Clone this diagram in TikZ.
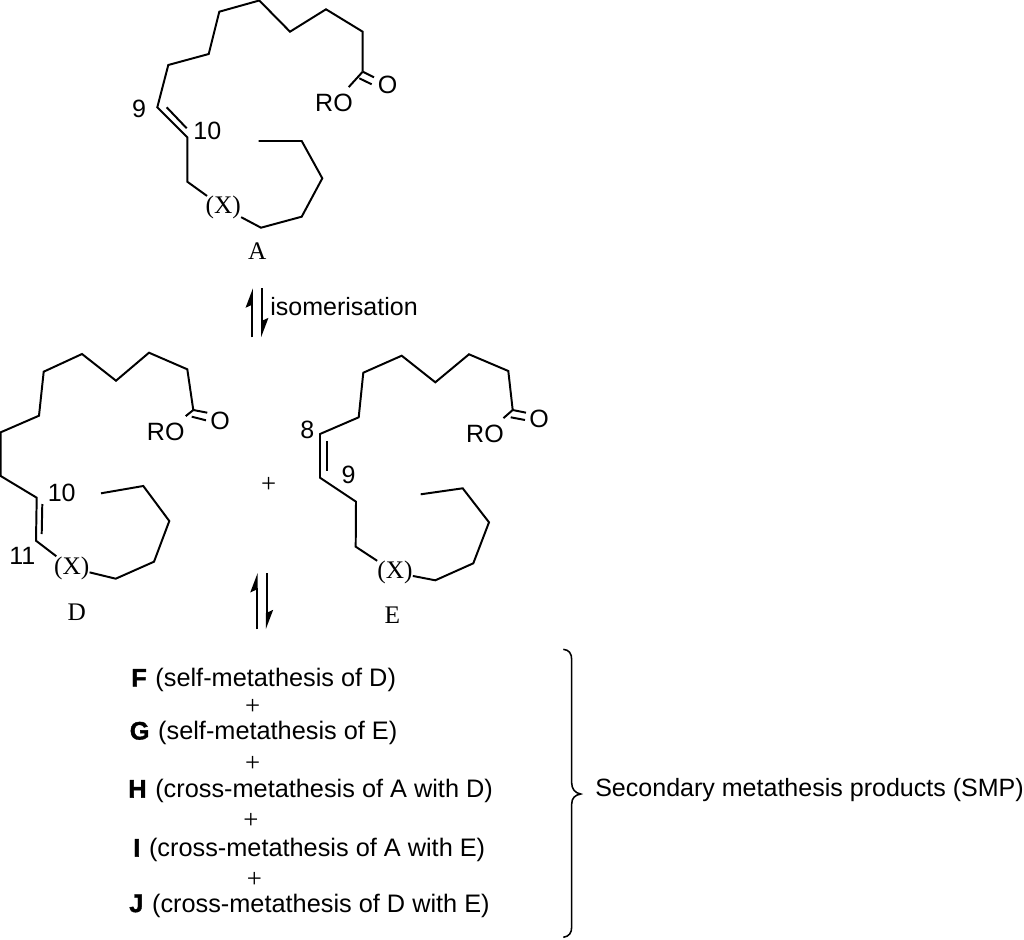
\documentclass[tikz,border=0pt]{standalone}
\usepackage{fontspec}
\setmainfont{Liberation Sans}
\newfontfamily\romanfont{Liberation Serif}
\newfontfamily\heavyfont[UprightFont={* Bold},FakeBold=1.5]{Liberation Sans}
\usetikzlibrary{arrows.meta}
\tikzset{
    bond/.style={line width=1.4pt, line join=miter},
    sanstext/.style={inner sep=0pt, font=\fontsize{17.8}{20}\selectfont},
    groupname/.style={inner sep=5pt, font=\fontsize{17.8}{20}\selectfont},
    serifatom/.style={inner sep=0pt, font=\romanfont\fontsize{18}{20}\selectfont},
    productline/.style={inner sep=0pt, anchor=west, font=\fontsize{18}{20}\selectfont},
    plusmark/.style={inner sep=0pt, font=\romanfont\fontsize{19}{20}\selectfont},
    upharpoon/.style={line width=1.3pt, -{Stealth[left, length=12pt, width=9pt, inset=2pt]}}
}
\newcommand{\heavy}[1]{{\heavyfont #1}\hspace{1.2pt}}
\begin{document}
\begin{tikzpicture}[x=0.025cm, y=-0.025cm]
    \useasboundingbox (0,0) rectangle (1024,939);
    % molecule A
    \node[serifatom] (XA) at (223.3,207.7) {(X)};
    \node[groupname] (ROA) at (334,103.3) {RO};
    \node[sanstext] (OA) at (387.7,85.3) {O};
    \node[sanstext] (nineA) at (139,109) {9};
    \node[sanstext] (tenA) at (207.3,131) {10};
    \node[serifatom] (nameA) at (257.3,250.7) {A};
    \coordinate (CA) at (362.7,71.7);
    \coordinate (C9A) at (157.3,107.3);
    \coordinate (C10A) at (187.3,137.3);
    \coordinate (C11A) at (187.3,181.7);
    \draw[bond] (CA) -- (362.7,31.7) -- (326,9.3) -- (290,31.7) -- (259.3,0.5) -- (219.3,11.7)
        -- (208.7,54) -- (168.3,65) -- (C9A) -- (C10A) -- (C11A) -- (XA);
    \draw[bond] (166.7,107.3) -- (186.7,128.3);
    \draw[bond] (XA) -- (261,227.7) -- (301.7,216.7) -- (322.3,178.3) -- (301.7,141) -- (258.7,141);
    \draw[bond] (CA) -- (ROA);
    \draw[bond] (CA) -- (374,77.3);
    \draw[bond] (359.3,78.3) -- (371.7,84.3);
    % first equilibrium
    \coordinate (eqAbot) at (252,337.3);
    \coordinate (eqAtop) at (252,288.3);
    \coordinate (eqBtop) at (262,288.3);
    \coordinate (eqBbot) at (262,337.3);
    \draw[upharpoon] (eqAbot) -- (eqAtop);
    \draw[upharpoon] (eqBtop) -- (eqBbot);
    \node[sanstext, anchor=west] (isom) at (270,307) {isomerisation};
    % molecule D
    \node[serifatom] (XD) at (71.7,568) {(X)};
    \node[groupname] (ROD) at (165.7,432.3) {RO};
    \node[sanstext] (OD) at (220,421.3) {O};
    \node[sanstext] (tenD) at (61.7,492.7) {10};
    \node[sanstext] (elevenD) at (22.3,556) {11};
    \node[serifatom] (nameD) at (76.7,612.7) {D};
    \coordinate (CD) at (193.3,410);
    \coordinate (C10D) at (36.7,497.7);
    \coordinate (C11D) at (36,540.7);
    \draw[bond] (CD) -- (187.3,369.3) -- (149,352.7) -- (116,380.7) -- (82,354) -- (43.7,371.7)
        -- (39,415.7) -- (0.7,432.3) -- (0.7,476) -- (C10D) -- (C11D) -- (XD);
    \draw[bond] (42.3,504) -- (41.7,534);
    \draw[bond] (XD) -- (115.7,578.7) -- (154,561.7) -- (169.3,521) -- (143.3,486) -- (101,493.3);
    \draw[bond] (CD) -- (ROD);
    \draw[bond] (CD) -- (207.3,412.7);
    \draw[bond] (191.7,416.7) -- (206,420.3);
    \node[plusmark] (plusDE) at (268.7,485) {+};
    % molecule E
    \node[serifatom] (XE) at (395,572.5) {(X)};
    \node[groupname] (ROE) at (485,434.3) {RO};
    \node[sanstext] (OE) at (539,419.3) {O};
    \node[sanstext] (eightE) at (307.3,430) {8};
    \node[sanstext] (nineE) at (348.7,475) {9};
    \node[serifatom] (nameE) at (392.3,615) {E};
    \coordinate (CE) at (512.7,410);
    \coordinate (C8E) at (320,434);
    \coordinate (C9E) at (320,477.7);
    \draw[bond] (CE) -- (508.3,371) -- (469,354.3) -- (435.3,382.3) -- (401.7,355.7) -- (363.3,372.7)
        -- (358.7,417.3) -- (C8E) -- (C9E) -- (356,501.7) -- (355.7,546.7) -- (XE);
    \draw[bond] (326.7,441) -- (326.7,470.7);
    \draw[bond] (XE) -- (435.3,580.3) -- (473.3,563.3) -- (489,522.3) -- (462.7,488.3) -- (420.7,494.3);
    \draw[bond] (CE) -- (ROE);
    \draw[bond] (CE) -- (526,412.7);
    \draw[bond] (510.7,417.3) -- (525,420);
    % second equilibrium
    \coordinate (eqCbot) at (256.7,629.3);
    \coordinate (eqCtop) at (256.7,573);
    \coordinate (eqDtop) at (266.7,573);
    \coordinate (eqDbot) at (266.7,629.3);
    \draw[upharpoon] (eqCbot) -- (eqCtop);
    \draw[upharpoon] (eqDtop) -- (eqDbot);
    % products
    \node[productline] (prodF) at (131,680) {\heavy{F} (self-metathesis of D)};
    \node[plusmark] (plusF) at (252.7,706.5) {+};
    \node[productline] (prodG) at (129.5,733) {\heavy{G} (self-metathesis of E)};
    \node[plusmark] (plusG) at (252.7,764) {+};
    \node[productline] (prodH) at (128,791) {\heavy{H} (cross-metathesis of A with D)};
    \node[plusmark] (plusH) at (251,821) {+};
    \node[productline] (prodI) at (133,850) {\heavy{I} (cross-metathesis of A with E)};
    \node[plusmark] (plusI) at (254.3,880) {+};
    \node[productline] (prodJ) at (129,905.5) {\heavy{J} (cross-metathesis of D with E)};
    \draw[line width=1.1pt] (563.3,649.3) .. controls (569,650) and (571.7,653) .. (571.7,660)
        -- (571.7,783) .. controls (571.7,789) and (575,793) .. (580.7,794)
        .. controls (575,795) and (571.7,798) .. (571.7,804)
        -- (571.7,926.7) .. controls (571.7,933) and (569,936.5) .. (563.3,937.3);
    \node[sanstext, anchor=west] (smp) at (595,790) {Secondary metathesis products (SMP)};
\end{tikzpicture}
\end{document}
